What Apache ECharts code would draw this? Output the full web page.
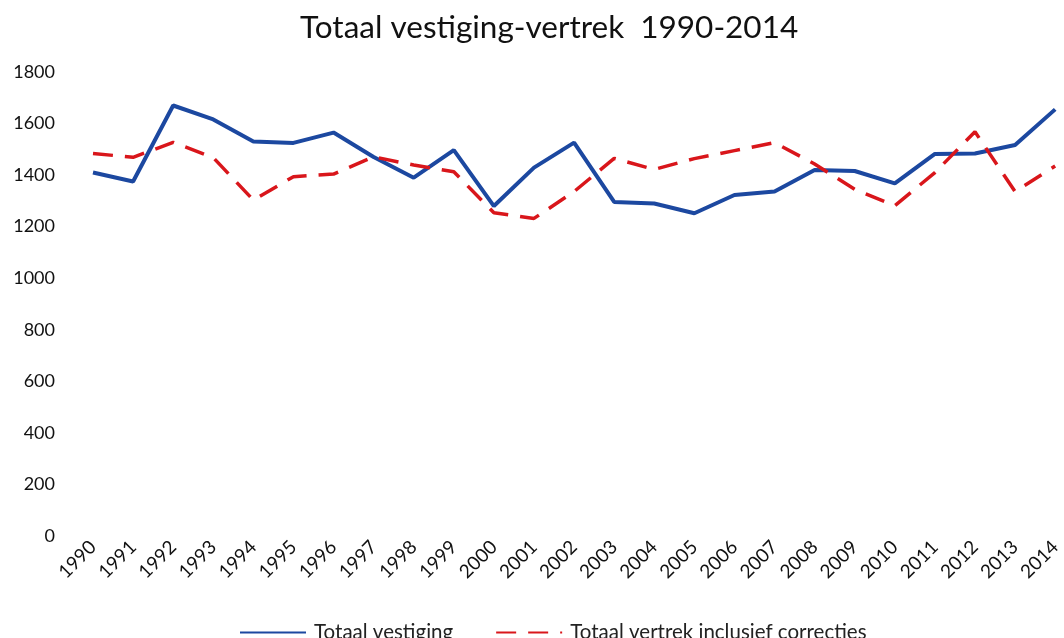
<!DOCTYPE html>
<html><head><meta charset="utf-8">
<script src="https://cdn.jsdelivr.net/npm/echarts@6/dist/echarts.min.js"></script>
<style>html,body{margin:0;padding:0;background:#fff}#c{width:1064px;height:638px}</style>
</head><body><div id="c"></div>
<script>
var years = ['1990','1991','1992','1993','1994','1995','1996','1997','1998','1999','2000','2001','2002','2003','2004','2005','2006','2007','2008','2009','2010','2011','2012','2013','2014'];
var vestiging = [1410,1375,1670,1616,1530,1525,1565,1470,1390,1497,1280,1429,1526,1296,1290,1252,1323,1336,1420,1416,1368,1482,1484,1517,1655];
var vertrek = [1484,1469,1527,1468,1303,1394,1404,1471,1439,1413,1254,1232,1336,1465,1422,1464,1495,1526,1443,1345,1281,1410,1568,1336,1435];
var yTicks = [0,200,400,600,800,1000,1200,1400,1600,1800];
var chart = echarts.init(document.getElementById('c'));
var font = 'Lato, "Open Sans", sans-serif';
chart.setOption({
  animation:false,
  title:{text:'Totaal vestiging-vertrek  1990-2014',left:295,top:7,
    textStyle:{fontFamily:font,fontSize:31.5,fontWeight:'normal',color:'#111'}},
  legend:{bottom:-10,left:234,itemWidth:66,itemHeight:10,itemGap:42,
    itemStyle:{opacity:0},
    textStyle:{fontFamily:font,fontSize:20.5,color:'#222',padding:[0,0,0,3]},
    data:['Totaal vestiging','Totaal vertrek inclusief correcties']},
  grid:{left:93,right:7,top:72,bottom:102},
  xAxis:{type:'category',data:years,boundaryGap:false,
    axisLine:{show:false},axisTick:{show:false},
    axisLabel:{rotate:45,fontFamily:font,fontSize:19,color:'#111',margin:8,interval:0}},
  yAxis:{type:'value',min:yTicks[0],max:yTicks[yTicks.length-1],interval:200,
    axisLine:{show:false},axisTick:{show:false},splitLine:{show:false},
    axisLabel:{fontFamily:font,fontSize:18,color:'#111',margin:38,formatter:function(v){return String(v);}}},
  series:[
    {name:'Totaal vestiging',type:'line',data:vestiging,symbol:'none',
      lineStyle:{color:'#1c48a0',width:4},itemStyle:{color:'#1c48a0'}},
    {name:'Totaal vertrek inclusief correcties',type:'line',data:vertrek,symbol:'none',
      lineStyle:{color:'#d9161b',width:3.5,type:[20,12]},itemStyle:{color:'#d9161b'}}
  ]
});
</script></body></html>
